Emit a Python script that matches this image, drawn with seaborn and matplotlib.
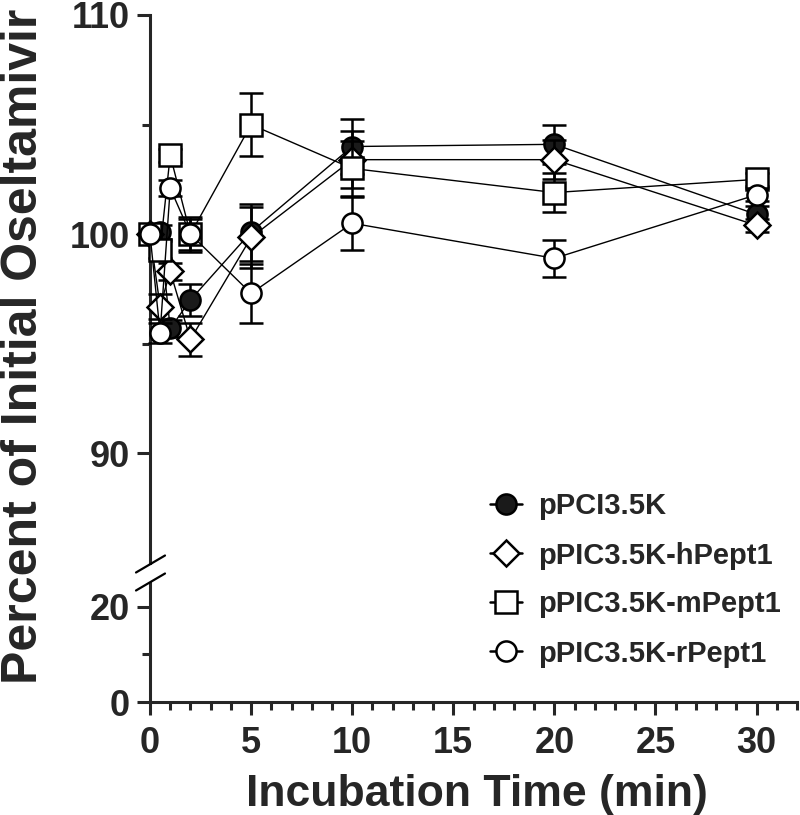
import numpy as np
import pandas as pd
import matplotlib
matplotlib.use("Agg")
import matplotlib.pyplot as plt
from matplotlib.lines import Line2D
from matplotlib.ticker import MultipleLocator, FixedLocator
import seaborn as sns

# Data
times = [0, 0.5, 1, 2, 5, 10, 20, 30]
series_names = ["pPCI3.5K", "pPIC3.5K-hPept1", "pPIC3.5K-mPept1", "pPIC3.5K-rPept1"]
pci = [100, 100.1, 95.7, 97.0, 100.1, 104.0, 104.1, 100.9]
pci_err = [0, 0.3, 0.4, 0.75, 1.3, 1.25, 0.9, 0.4]
hpept = [100, 96.7, 98.3, 95.2, 99.85, 103.4, 103.4, 100.4]
hpept_err = [0, 0.55, 0.4, 0.75, 1.4, 1.3, 0.9, 0.3]
mpept = [100, 99.3, 103.6, 100.0, 105.0, 103.0, 101.9, 102.5]
mpept_err = [0, 0.4, 0.3, 0.8, 1.45, 1.25, 0.9, 0.3]
rpept = [100, 95.5, 102.1, 100.0, 97.3, 100.5, 98.9, 101.8]
rpept_err = [0, 0.45, 0.35, 0.7, 1.35, 1.2, 0.85, 0.3]

values = [pci, hpept, mpept, rpept]
errors = [pci_err, hpept_err, mpept_err, rpept_err]
markers = ["o", "D", "s", "o"]
msizes = [14.5, 13.2, 15.5, 14.5]
faces = ["#1a1a1a", "white", "white", "white"]

sns.set_style("ticks")
plt.rcParams["font.family"] = ["Liberation Sans", "DejaVu Sans"]
plt.rcParams["font.weight"] = "bold"

W, H = 800, 815
fig = plt.figure(figsize=(8, 8.15), dpi=100)


def fx(px):
    return px / W


def fy(px):
    return 1 - px / H


# upper (85-110) and lower (0-25) parts of the broken y axis
ax_top = fig.add_axes([fx(150), fy(563), fx(797) - fx(150), fy(15) - fy(563)])
ax_bot = fig.add_axes([fx(150), fy(702), fx(797) - fx(150), fy(583) - fy(702)])

for i, name in enumerate(series_names):
    df = pd.DataFrame({"time": times, "pct": values[i], "err": errors[i]})
    z = 3 + i * 3
    ax_top.errorbar(df["time"], df["pct"], yerr=df["err"], fmt="none",
                    ecolor="black", elinewidth=1.8, capsize=8.5, capthick=1.8,
                    zorder=z, clip_on=False)
    sns.lineplot(data=df, x="time", y="pct", ax=ax_top, color="black",
                 linewidth=1.0, marker=markers[i], markersize=msizes[i],
                 markerfacecolor=faces[i], markeredgecolor="black",
                 markeredgewidth=1.8, zorder=z + 1, clip_on=False,
                 legend=False, errorbar=None)

for ax in (ax_top, ax_bot):
    ax.set_xlim(0, 32)
    ax.set_xlabel("")
    ax.set_ylabel("")
    ax.set_facecolor("none")
    for s in ("top", "right"):
        ax.spines[s].set_visible(False)
    ax.spines["left"].set_linewidth(2.2)
    ax.spines["bottom"].set_linewidth(2.2)
    ax.tick_params(which="major", length=9.5, width=2.2, labelsize=26, pad=5)
    ax.tick_params(which="minor", length=5.5, width=2.2)

ax_top.set_ylim(85, 110)
ax_top.yaxis.set_major_locator(FixedLocator([90, 100, 110]))
ax_top.yaxis.set_minor_locator(FixedLocator([95, 105]))
ax_top.spines["bottom"].set_visible(False)
ax_top.tick_params(axis="x", which="both", bottom=False, labelbottom=False)

ax_bot.set_ylim(0, 25)
ax_bot.yaxis.set_major_locator(FixedLocator([0, 20]))
ax_bot.yaxis.set_minor_locator(FixedLocator([10]))
ax_bot.xaxis.set_major_locator(MultipleLocator(5))
ax_bot.xaxis.set_minor_locator(MultipleLocator(1))
ax_bot.tick_params(axis="x", which="major", pad=8)

for a in ax_top.get_yticklabels() + ax_bot.get_yticklabels() + ax_bot.get_xticklabels():
    a.set_fontweight("bold")

# break marks on the y axis
for y0 in (564, 582):
    fig.add_artist(Line2D([fx(136), fx(165)], [fy(y0 + 8.5), fy(y0 - 8.5)],
                          color="black", lw=1.6))

fig.text(fx(1), fy(346), "Percent of Initial Oseltamivir", rotation=90,
         ha="left", va="center", fontsize=36, fontweight="bold")
fig.text(fx(477), fy(806), "Incubation Time (min)", ha="center",
         va="baseline", fontsize=32, fontweight="bold")

handles = []
for i, name in enumerate(series_names):
    handles.append(Line2D([], [], color="black", lw=1.8, marker=markers[i],
                          markersize=msizes[i], markerfacecolor=faces[i],
                          markeredgecolor="black", markeredgewidth=1.8,
                          label=name))
fig.legend(handles=handles, loc="center left",
           bbox_to_anchor=(fx(490), fy(580)), frameon=False,
           prop={"size": 21, "weight": "bold"}, borderpad=0,
           borderaxespad=0, handlelength=1.1, handletextpad=0.55,
           labelspacing=0.72)

fig.savefig("out.png", dpi=100)
